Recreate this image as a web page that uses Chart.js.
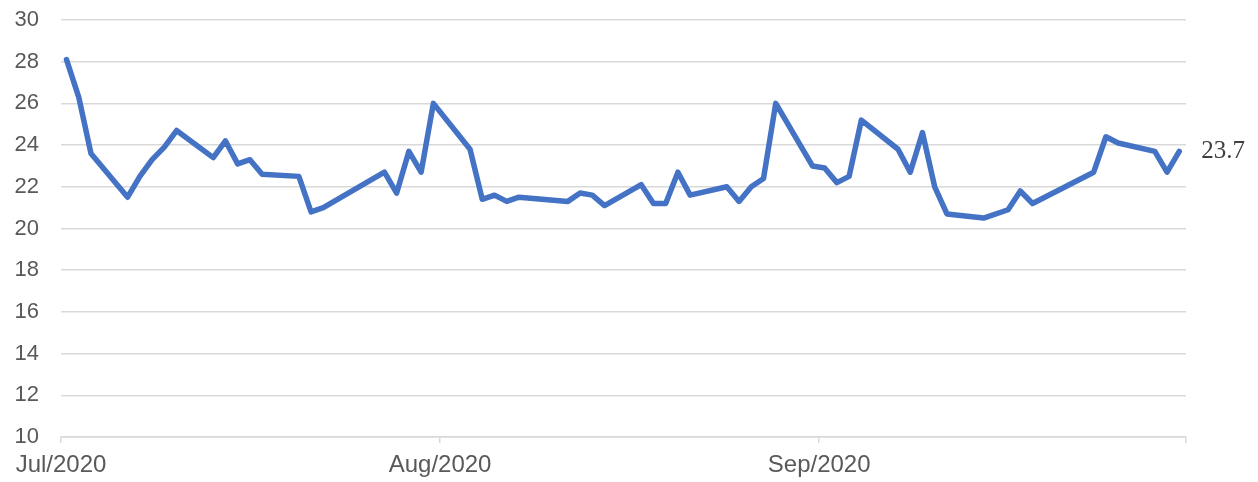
<!DOCTYPE html>
<html>
<head>
<meta charset="utf-8">
<script src="https://cdn.jsdelivr.net/npm/chart.js@4"></script>
<style>
html,body{margin:0;padding:0;background:#fff;}
#wrap{width:1258px;height:482px;position:relative;}
</style>
</head>
<body>
<div id="wrap"><canvas id="c"></canvas></div>
<script>
const dates = [
 '2020-07-01','2020-07-02','2020-07-03','2020-07-06','2020-07-07','2020-07-08','2020-07-09','2020-07-10',
 '2020-07-13','2020-07-14','2020-07-15','2020-07-16','2020-07-17','2020-07-20','2020-07-21','2020-07-22',
 '2020-07-27','2020-07-28','2020-07-29','2020-07-30','2020-07-31',
 '2020-08-03','2020-08-04','2020-08-05','2020-08-06','2020-08-07','2020-08-11','2020-08-12','2020-08-13','2020-08-14',
 '2020-08-17','2020-08-18','2020-08-19','2020-08-20','2020-08-21','2020-08-24','2020-08-25','2020-08-26','2020-08-27','2020-08-28',
 '2020-08-31','2020-09-01','2020-09-02','2020-09-03','2020-09-04','2020-09-07','2020-09-08','2020-09-09','2020-09-10','2020-09-11',
 '2020-09-14','2020-09-16','2020-09-17','2020-09-18','2020-09-23','2020-09-24','2020-09-25','2020-09-28','2020-09-29','2020-09-30'
];
const values = [
 28.1,26.3,23.6,21.5,22.5,23.3,23.9,24.7,
 23.4,24.2,23.1,23.3,22.6,22.5,20.8,21.0,
 22.7,21.7,23.7,22.7,26.0,
 23.8,21.4,21.6,21.3,21.5,21.3,21.7,21.6,21.1,
 22.1,21.2,21.2,22.7,21.6,22.0,21.3,22.0,22.4,26.0,
 23.0,22.9,22.2,22.5,25.2,23.8,22.7,24.6,22.0,20.7,
 20.5,20.9,21.8,21.2,22.7,24.4,24.1,23.7,22.7,23.7
];
const tickDates = ['2020-07-01','2020-08-01','2020-09-01','2020-10-01'];
const tickLabels = ['Jul/2020','Aug/2020','Sep/2020',''];
const yTicks = [10,12,14,16,18,20,22,24,26,28,30];

const DAY = 864e5;
const origin = Date.parse(tickDates[0]);
const toX = d => (Date.parse(d) - origin) / DAY;
const points = dates.map((d, i) => ({x: toX(d) + 0.45, y: values[i]}));
const tickX = tickDates.map(toX);

const lastLabel = {
  id: 'lastLabel',
  afterDatasetsDraw(chart) {
    const meta = chart.getDatasetMeta(0);
    const el = meta.data[meta.data.length - 1];
    const ctx = chart.ctx;
    ctx.save();
    ctx.font = '25px "Liberation Serif", "Times New Roman", serif';
    ctx.fillStyle = '#404040';
    ctx.textAlign = 'left';
    ctx.textBaseline = 'middle';
    ctx.fillText(values[values.length - 1].toFixed(1), el.x + 22, el.y);
    ctx.restore();
  }
};

new Chart(document.getElementById('c'), {
  type: 'line',
  data: {
    datasets: [{
      data: points,
      borderColor: '#4472C4',
      borderWidth: 5.5,
      pointRadius: 0,
      tension: 0,
      borderJoinStyle: 'round',
      borderCapStyle: 'round',
      fill: false
    }]
  },
  options: {
    responsive: true,
    maintainAspectRatio: false,
    animation: false,
    events: [],
    layout: {padding: {left: 0, right: 72, top: 20, bottom: 0}},
    plugins: {legend: {display: false}, tooltip: {enabled: false}},
    scales: {
      x: {
        type: 'linear',
        min: tickX[0],
        max: tickX[tickX.length - 1],
        afterBuildTicks(scale) { scale.ticks = tickX.map(v => ({value: v})); },
        afterFit(scale) { scale.height = 45; },
        grid: {display: true, drawOnChartArea: false, drawTicks: true, tickLength: 6, color: '#d9d9d9', lineWidth: 1.5},
        border: {display: true, color: '#d9d9d9', width: 1.5},
        ticks: {
          autoSkip: false, maxRotation: 0, padding: 8,
          color: '#595959',
          font: {family: '"Liberation Sans", Arial, sans-serif', size: 24},
          callback: (v, i) => tickLabels[i]
        }
      },
      y: {
        min: yTicks[0],
        max: yTicks[yTicks.length - 1],
        afterBuildTicks(scale) { scale.ticks = yTicks.map(v => ({value: v})); },
        afterFit(scale) { scale.width = 61; },
        grid: {drawTicks: true, tickLength: 21, tickColor: 'rgba(0,0,0,0)', color: '#d9d9d9', lineWidth: 1.5},
        border: {display: false},
        ticks: {
          padding: 1,
          color: '#595959',
          font: {family: '"Liberation Sans", Arial, sans-serif', size: 22},
          callback: v => String(v)
        }
      }
    }
  },
  plugins: [lastLabel]
});
</script>
</body>
</html>
